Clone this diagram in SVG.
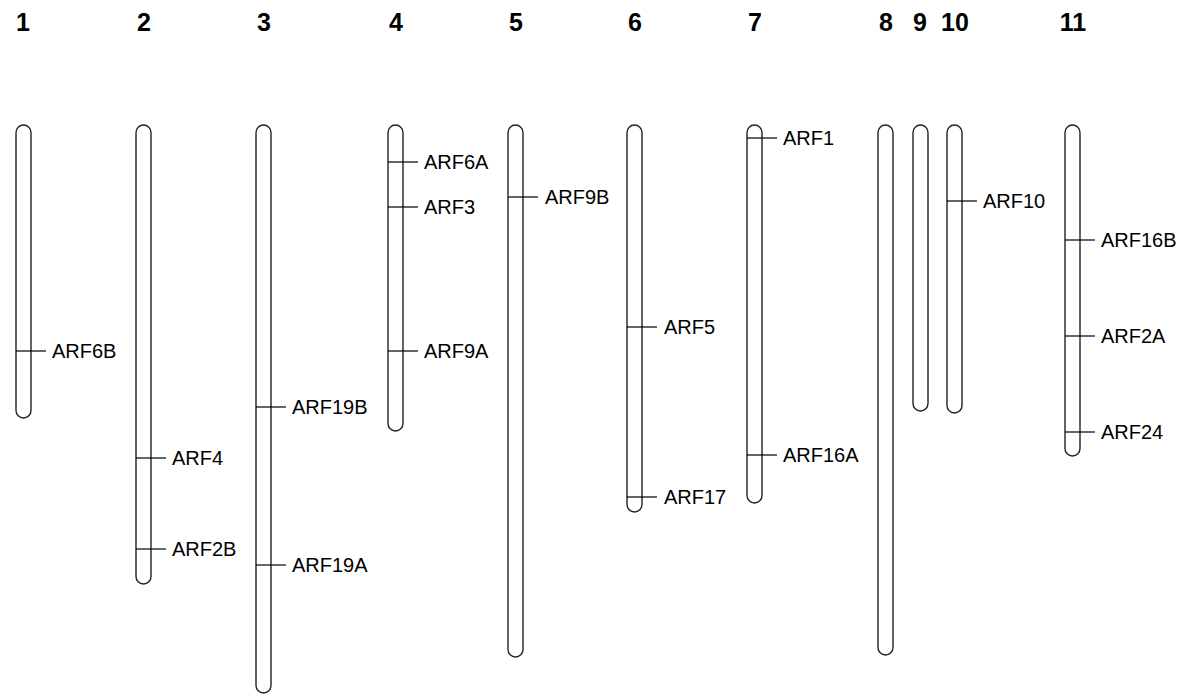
<svg xmlns="http://www.w3.org/2000/svg" width="1184" height="695" viewBox="0 0 1184 695">
<style>
.chr{fill:#fff;stroke:#222;stroke-width:1.4}
.num{font-family:"Liberation Sans",Arial,sans-serif;font-weight:bold;font-size:25px;fill:#000;text-anchor:middle}
.lbl{font-family:"Liberation Sans",Arial,sans-serif;font-size:20px;fill:#000}
.mk{stroke:#000;stroke-width:1.2}
</style>
<rect width="1184" height="695" fill="#fff"/>
<g id="numbers">
<text class="num" x="23" y="31">1</text>
<text class="num" x="144" y="31">2</text>
<text class="num" x="264" y="31">3</text>
<text class="num" x="396" y="31">4</text>
<text class="num" x="516" y="31">5</text>
<text class="num" x="635" y="31">6</text>
<text class="num" x="755" y="31">7</text>
<text class="num" x="886" y="31">8</text>
<text class="num" x="920" y="31">9</text>
<text class="num" x="955" y="31">10</text>
<text class="num" x="1073" y="31">11</text>
</g>
<g id="chr1"><rect class="chr" x="16" y="125" width="15" height="293" rx="7.5"/></g>
<g id="chr2"><rect class="chr" x="136" y="125" width="15" height="459" rx="7.5"/></g>
<g id="chr3"><rect class="chr" x="256" y="125" width="15" height="568" rx="7.5"/></g>
<g id="chr4"><rect class="chr" x="388" y="125" width="15" height="306" rx="7.5"/></g>
<g id="chr5"><rect class="chr" x="508" y="125" width="15" height="532" rx="7.5"/></g>
<g id="chr6"><rect class="chr" x="627" y="125" width="15" height="387" rx="7.5"/></g>
<g id="chr7"><rect class="chr" x="747" y="125" width="15" height="378" rx="7.5"/></g>
<g id="chr8"><rect class="chr" x="878" y="125" width="15" height="530" rx="7.5"/></g>
<g id="chr9"><rect class="chr" x="913" y="125" width="15" height="286" rx="7.5"/></g>
<g id="chr10"><rect class="chr" x="947" y="125" width="15" height="288" rx="7.5"/></g>
<g id="chr11"><rect class="chr" x="1065" y="125" width="15" height="331" rx="7.5"/></g>
<g id="markers">
<line class="mk" x1="16" y1="351" x2="46" y2="351"/>
<line class="mk" x1="136" y1="458" x2="166" y2="458"/>
<line class="mk" x1="136" y1="549" x2="166" y2="549"/>
<line class="mk" x1="256" y1="407" x2="286" y2="407"/>
<line class="mk" x1="256" y1="565" x2="286" y2="565"/>
<line class="mk" x1="388" y1="162" x2="418" y2="162"/>
<line class="mk" x1="388" y1="207" x2="418" y2="207"/>
<line class="mk" x1="388" y1="351" x2="418" y2="351"/>
<line class="mk" x1="508" y1="197" x2="538" y2="197"/>
<line class="mk" x1="627" y1="327" x2="657" y2="327"/>
<line class="mk" x1="627" y1="497" x2="657" y2="497"/>
<line class="mk" x1="747" y1="138" x2="777" y2="138"/>
<line class="mk" x1="747" y1="455" x2="777" y2="455"/>
<line class="mk" x1="947" y1="201" x2="977" y2="201"/>
<line class="mk" x1="1065" y1="240" x2="1095" y2="240"/>
<line class="mk" x1="1065" y1="336" x2="1095" y2="336"/>
<line class="mk" x1="1065" y1="432" x2="1095" y2="432"/>
</g>
<g id="labels">
<text class="lbl" x="52" y="358">ARF6B</text>
<text class="lbl" x="172" y="465">ARF4</text>
<text class="lbl" x="172" y="556">ARF2B</text>
<text class="lbl" x="292" y="414">ARF19B</text>
<text class="lbl" x="292" y="572">ARF19A</text>
<text class="lbl" x="424" y="169">ARF6A</text>
<text class="lbl" x="424" y="214">ARF3</text>
<text class="lbl" x="424" y="358">ARF9A</text>
<text class="lbl" x="545" y="204">ARF9B</text>
<text class="lbl" x="664" y="334">ARF5</text>
<text class="lbl" x="664" y="504">ARF17</text>
<text class="lbl" x="783" y="145">ARF1</text>
<text class="lbl" x="783" y="462">ARF16A</text>
<text class="lbl" x="983" y="208">ARF10</text>
<text class="lbl" x="1101" y="247">ARF16B</text>
<text class="lbl" x="1101" y="343">ARF2A</text>
<text class="lbl" x="1101" y="439">ARF24</text>
</g>
</svg>
